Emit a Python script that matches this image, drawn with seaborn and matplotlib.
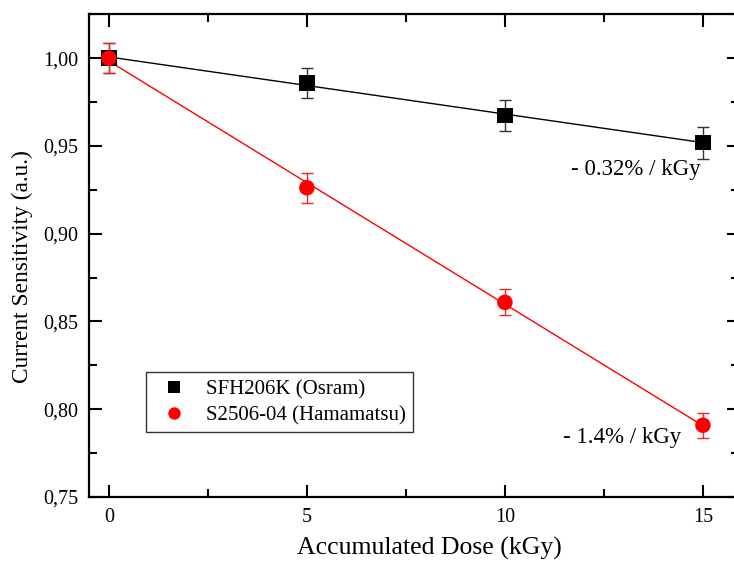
import numpy as np
import pandas as pd
import matplotlib
matplotlib.use('Agg')
import matplotlib.pyplot as plt
from matplotlib.ticker import FuncFormatter, MultipleLocator
import seaborn as sns

sns.set_theme(style="ticks")
plt.rcParams['font.family'] = ['Liberation Serif', 'DejaVu Serif']
for key in ['text.color', 'axes.labelcolor', 'xtick.color', 'ytick.color']:
    plt.rcParams[key] = 'black'

# ── DATA ─────────────────────────────────────────────────
dose = [0, 5, 10, 15]
osram = [1.000, 0.9859, 0.9675, 0.9519]
osram_err = [0.0087, 0.0087, 0.0087, 0.0091]
hama = [1.000, 0.9262, 0.8609, 0.7909]
hama_err = [0.0087, 0.0086, 0.0074, 0.0070]

osram_label = 'SFH206K (Osram)'
hama_label = 'S2506-04 (Hamamatsu)'
osram_note = '- 0.32% / kGy'
hama_note = '- 1.4% / kGy'

BLACK = '#000000'
RED = '#ff0000'

df = pd.DataFrame({'dose': dose * 2,
                   'sens': osram + hama,
                   'err': osram_err + hama_err,
                   'detector': [osram_label] * 4 + [hama_label] * 4})

fig = plt.figure(figsize=(7.34, 5.61), dpi=100)
ax = fig.add_axes([89 / 734, 1 - 497 / 561, 650 / 734, 483 / 561])

# linear fits
xs = np.array([dose[0], dose[-1]])
for vals, color in [(osram, BLACK), (hama, RED)]:
    k, b = np.polyfit(dose, vals, 1)
    sns.lineplot(x=xs, y=k * xs + b, color=color, lw=1.0, ax=ax)

# error bars
ax.errorbar(dose, osram, yerr=osram_err, fmt='none', ecolor='#333333',
            elinewidth=1.0, capsize=4, capthick=1.0)
ax.errorbar(dose, hama, yerr=hama_err, fmt='none', ecolor='#e8282b',
            elinewidth=1.0, capsize=4, capthick=1.0)

sns.scatterplot(data=df, x='dose', y='sens', hue='detector', style='detector',
                markers={osram_label: 's', hama_label: 'o'},
                palette={osram_label: BLACK, hama_label: RED},
                s=125, linewidth=0, ax=ax, zorder=5)

ax.set_xlim(-0.5, 15.91)
ax.set_ylim(0.75, 1.0252)
ax.xaxis.set_major_locator(MultipleLocator(5))
ax.xaxis.set_minor_locator(MultipleLocator(2.5))
ax.yaxis.set_major_locator(MultipleLocator(0.05))
ax.yaxis.set_minor_locator(MultipleLocator(0.025))
ax.yaxis.set_major_formatter(FuncFormatter(lambda v, p: f'{v:.2f}'.replace('.', ',')))
ax.tick_params(which='both', direction='in', top=True, right=True)
ax.tick_params(which='major', length=9, width=1.5, labelsize=14.5, pad=8)
ax.tick_params(which='minor', length=6, width=1.5)
for sp in ax.spines.values():
    sp.set_linewidth(1.6)
    sp.set_color('black')

ax.set_xlabel('Accumulated Dose (kGy)', fontsize=18.5)
ax.set_ylabel('Current Sensitivity (a.u.)', fontsize=16.8)
ax.xaxis.set_label_coords(0.524, -0.083)
ax.yaxis.set_label_coords(-0.086, 0.478)

ax.text(13.31, 0.9366, osram_note, fontsize=16.5, ha='center', va='center')
ax.text(12.95, 0.7837, hama_note, fontsize=16.5, ha='center', va='center')

handles, labels = ax.get_legend_handles_labels()
leg = ax.legend(handles, labels, loc='upper left', bbox_to_anchor=(0.088, 0.258),
                fontsize=15, frameon=True, fancybox=False, edgecolor='black',
                borderpad=0.35, handletextpad=0.5, labelspacing=0.3,
                markerscale=0.8, borderaxespad=0)
leg.get_frame().set_linewidth(1.0)

plt.savefig('out.png', dpi=100)
plt.close()
